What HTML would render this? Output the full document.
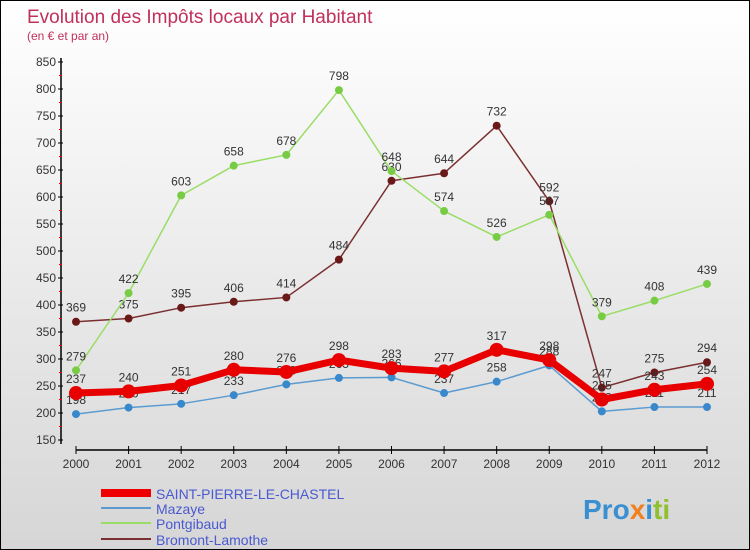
<!DOCTYPE html>
<html><head><meta charset="utf-8"><style>
body{margin:0}
#c{width:748px;height:548px;border:1px solid #000;background:linear-gradient(#fff,#d6d6d6);position:relative;overflow:hidden;font-family:"Liberation Sans",sans-serif}
</style></head><body>
<div id="c">
<svg width="748" height="548" id="s">
<text x="26" y="22" font-size="19" fill="#c0305a">Evolution des Impôts locaux par Habitant</text>
<text x="26" y="39" font-size="12" fill="#c0305a">(en € et par an)</text>
<g id="axes"></g><g id="series"></g>
<g>
<line x1="100" y1="492" x2="150" y2="492" stroke="#e00" stroke-width="8"/>
<text x="155" y="498" font-size="14" fill="#4a5ad0">SAINT-PIERRE-LE-CHASTEL</text>
<line x1="100" y1="507" x2="150" y2="507" stroke="#5b9bd0" stroke-width="2"/>
<text x="155" y="513" font-size="14" fill="#4a5ad0">Mazaye</text>
<line x1="100" y1="522" x2="150" y2="522" stroke="#99dd66" stroke-width="2"/>
<text x="155" y="528" font-size="14" fill="#4a5ad0">Pontgibaud</text>
<line x1="100" y1="538" x2="150" y2="538" stroke="#7a3030" stroke-width="2"/>
<text x="155" y="544" font-size="14" fill="#4a5ad0">Bromont-Lamothe</text>
</g>
<text x="582" y="518" font-size="28" font-weight="bold"><tspan fill="#3a8fd0">Pro</tspan><tspan fill="#f08020">x</tspan><tspan fill="#3a8fd0">i</tspan><tspan fill="#90c030">ti</tspan></text>
</svg></div>
<script>
const years=["2000","2001","2002","2003","2004","2005","2006","2007","2008","2009","2010","2011","2012"];
const yTicks=[150,200,250,300,350,400,450,500,550,600,650,700,750,800,850];
const splc=[237,240,251,280,276,298,283,277,317,298,225,243,254];
const mazaye=[198,210,217,233,253,265,266,237,258,288,203,211,211];
const pontgibaud=[279,422,603,658,678,798,648,574,526,567,379,408,439];
const bromont=[369,375,395,406,414,484,630,644,732,592,247,275,294];
const NS="http://www.w3.org/2000/svg";
function X(i){return 75+i*(706-75)/(years.length-1);}
function Y(v){return 439-(v-150)*(439-61)/700;}
function mk(t,a,p){const e=document.createElementNS(NS,t);for(const k in a)e.setAttribute(k,a[k]);p.appendChild(e);return e;}
const ax=document.getElementById('axes');
const yl=mk('line',{x1:60,y1:57,x2:60,y2:443,stroke:'#000','stroke-width':1.5},ax);


const xl=mk('line',{x1:75,y1:449,x2:706,y2:449,stroke:'#000','stroke-width':1.5},ax);


yTicks.forEach(v=>{const y=Y(v);mk('line',{x1:57,y1:y,x2:62,y2:y,stroke:'#000'},ax);
 if(v<850)mk('line',{x1:58,y1:y-13.5,x2:61,y2:y-13.5,stroke:'#e00'},ax);
 const t=mk('text',{x:55,y:y+4,'font-size':12,fill:'#333','text-anchor':'end'},ax);t.textContent=v;
 
 });
years.forEach((yr,i)=>{mk('line',{x1:X(i),y1:445,x2:X(i),y2:453,stroke:'#000'},ax);
 const t=mk('text',{x:X(i),y:467,'font-size':12,fill:'#333','text-anchor':'middle'},ax);t.textContent=yr;
 
 });
const sg=document.getElementById('series');
function draw(d,col,w,r,name,dot){
 const g=mk('g',{},sg);
 
 
 mk('polyline',{points:d.map((v,i)=>X(i)+','+Y(v)).join(' '),fill:'none',stroke:col,'stroke-width':w,'stroke-linejoin':'round'},g);
 d.forEach((v,i)=>{const c=mk('circle',{cx:X(i),cy:Y(v),r:r,fill:dot},g);
  
  
  const t=mk('text',{x:X(i),y:Y(v)-10,'font-size':12,fill:'#333','text-anchor':'middle'},g);t.textContent=v;
  
  });
}
draw(bromont,'#7a3030',1.5,4,'bromont','#6a1818');
draw(pontgibaud,'#99dd66',1.5,4,'pontgibaud','#77cc44');
draw(mazaye,'#5b9bd0',1.5,4,'mazaye','#3a88cc');
draw(splc,'#e80000',7,7,'saint-pierre','#e80000');
</script>
</body></html>
